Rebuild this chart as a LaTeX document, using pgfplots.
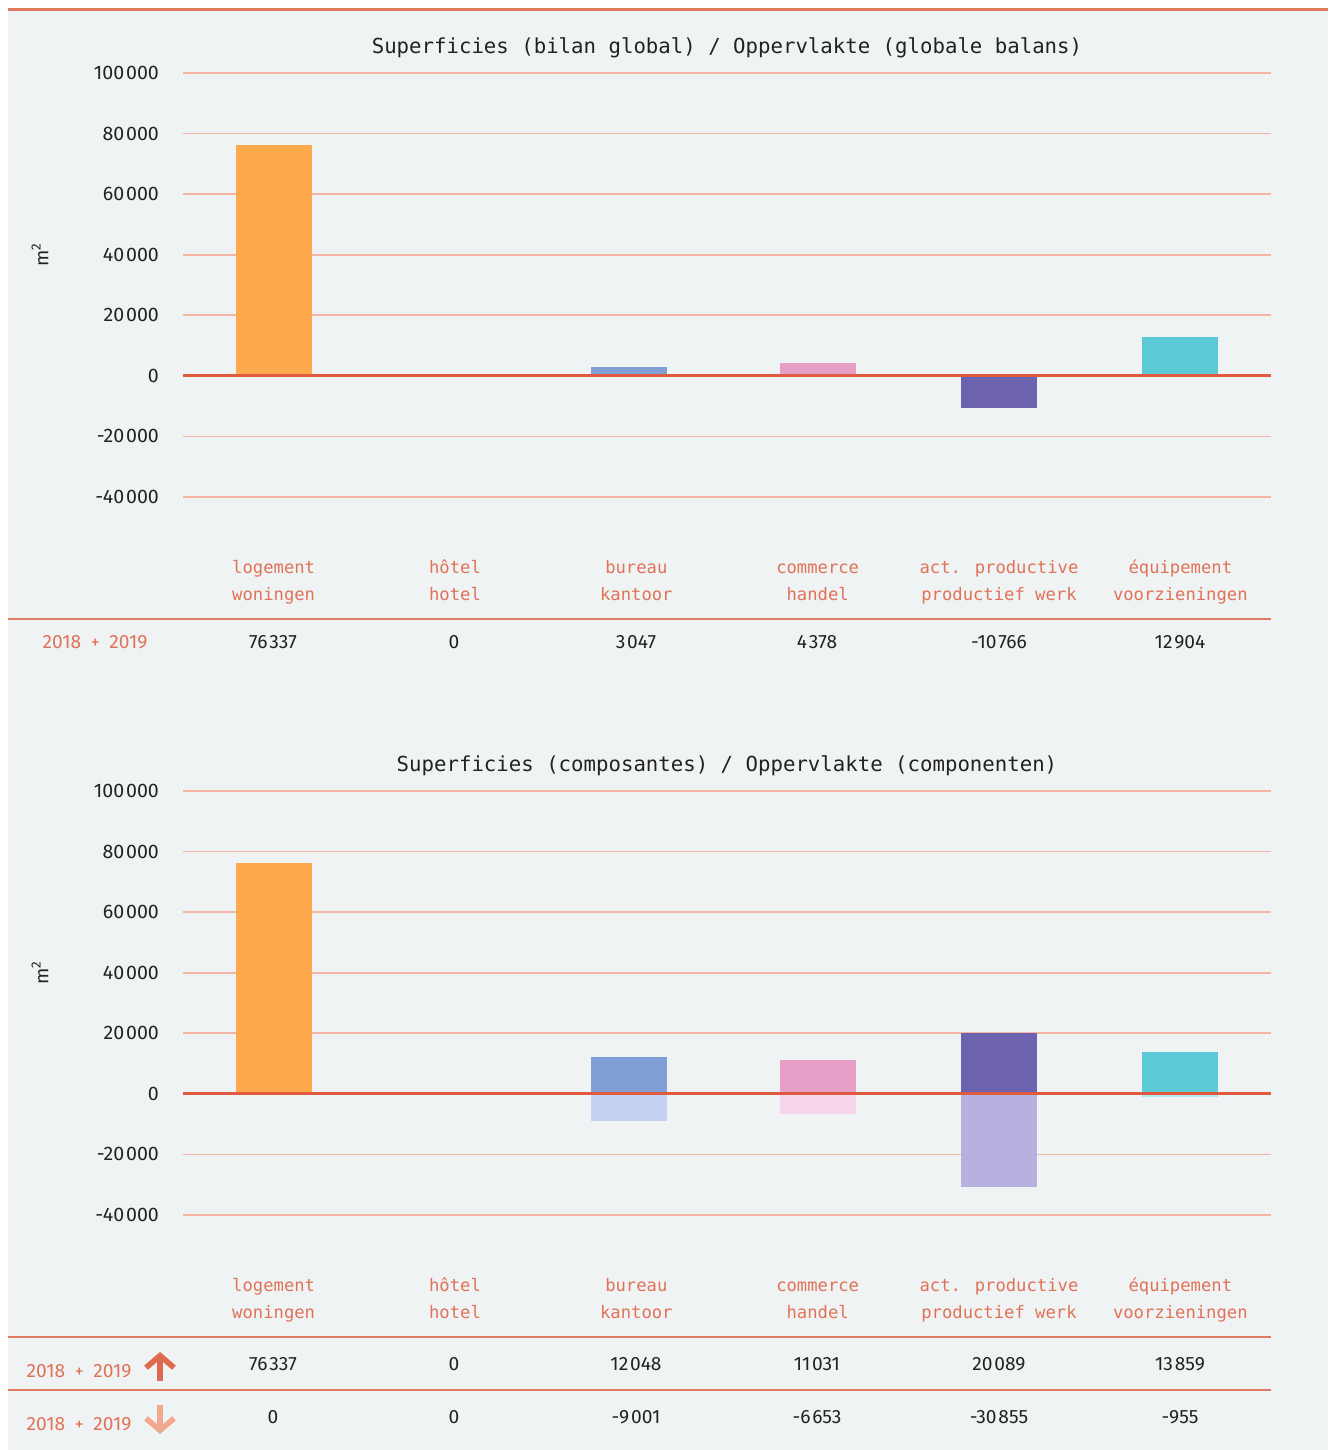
\documentclass[border=0pt]{standalone}
\usepackage{pgfplots}
\pgfplotsset{compat=1.18}
\usepackage{fontspec}
\setmainfont{Fira Sans}
\newfontfamily\monof{DejaVu Sans Mono}
\usetikzlibrary{arrows.meta}
\definecolor{bg}{HTML}{F0F3F3}
\definecolor{gridc}{HTML}{F4B6A4}
\definecolor{zeroc}{HTML}{E05A40}
\definecolor{labc}{HTML}{E07258}
\definecolor{linec}{HTML}{E07A5F}
\definecolor{txt}{HTML}{222222}
\definecolor{cA}{HTML}{FFA94D}
\definecolor{cB}{HTML}{809FD4}
\definecolor{cC}{HTML}{E69FC7}
\definecolor{cD}{HTML}{6C62B0}
\definecolor{cE}{HTML}{5BC9D6}
\definecolor{lB}{HTML}{C3D0EF}
\definecolor{lC}{HTML}{F6D4E9}
\definecolor{lD}{HTML}{B8B1E0}
\definecolor{lE}{HTML}{B0E6EC}
\definecolor{arrUp}{HTML}{E06A4E}
\definecolor{arrDn}{HTML}{F0A98F}
\newcommand{\ts}{\kern0.9pt}
\pgfplotsset{mychart/.style={
  scale only axis, width=544pt, height=212pt,
  xmin=-0.5, xmax=5.5, ymin=-40000, ymax=100000,
  axis line style={draw=none}, major tick length=0pt,
  ytick={-40000,-20000,0,20000,40000,60000,80000,100000},
  yticklabels={-40\ts000,-20\ts000,0,20\ts000,40\ts000,60\ts000,80\ts000,100\ts000},
  ymajorgrids, major grid style={color=gridc, line width=0.85pt},
  xtick={0,1,2,3,4,5},
  xticklabels={{\strut logement\\woningen},{\strut hôtel\\hotel},{\strut bureau\\kantoor},{\strut commerce\\handel},{\strut act. productive\\productief werk},{\strut équipement\\voorzieningen}},
  xticklabel style={font=\monof\fontsize{8.6}{13.5}\selectfont, text=labc, align=center, yshift=-25.5pt},
  yticklabel style={font=\fontsize{9.8}{12}\selectfont, text=txt, xshift=-8.5pt},
  scaled y ticks=false,
  ylabel={m\textsuperscript{2}},
  ylabel style={at={(axis description cs:-0.1314,0.571)}, anchor=center, font=\fontsize{9.5}{11}\selectfont, text=txt},
  title style={at={(axis description cs:0.5,1)}, anchor=center, yshift=6.8pt, font=\monof\fontsize{10.35}{12}\selectfont, text=txt},
  clip=false,
}}
\begin{document}
\begin{tikzpicture}
\begin{scope}[x=0.5pt,y=0.5pt]
\fill[white] (0,0) rectangle (1328,1450);
\fill[bg] (8,0) rectangle (1328,1442);
\draw[linec, line width=1.5pt] (8,1440) -- (1328,1440);
\end{scope}
% ---------- chart 1 ----------
\begin{axis}[mychart, at={(91.5pt,476.5pt)}, anchor=south west,
  title={Superficies (bilan global) / Oppervlakte (globale balans)}]
\addplot[ybar, bar width=38pt, bar shift=0pt, fill=cA, draw=none] coordinates {(0,76337)};
\addplot[ybar, bar width=38pt, bar shift=0pt, fill=cA, draw=none] coordinates {(1,0)};
\addplot[ybar, bar width=38pt, bar shift=-3.5pt, fill=cB, draw=none] coordinates {(2,3047)};
\addplot[ybar, bar width=38pt, bar shift=0pt, fill=cC, draw=none] coordinates {(3,4378)};
\addplot[ybar, bar width=38pt, bar shift=0pt, fill=cD, draw=none] coordinates {(4,-10766)};
\addplot[ybar, bar width=38pt, bar shift=0pt, fill=cE, draw=none] coordinates {(5,12904)};
\draw[zeroc, line width=1.4pt] (axis cs:-0.5,0) -- (axis cs:5.5,0);
\end{axis}
% ---------- chart 2 ----------
\begin{axis}[mychart, at={(91.5pt,117.5pt)}, anchor=south west,
  title={Superficies (composantes) / Oppervlakte (componenten)}]
\addplot[ybar, bar width=38pt, bar shift=0pt, fill=cA, draw=none] coordinates {(0,76337)};
\addplot[ybar, bar width=38pt, bar shift=-3.5pt, fill=cB, draw=none] coordinates {(2,12048)};
\addplot[ybar, bar width=38pt, bar shift=0pt, fill=cC, draw=none] coordinates {(3,11031)};
\addplot[ybar, bar width=38pt, bar shift=0pt, fill=cD, draw=none] coordinates {(4,20089)};
\addplot[ybar, bar width=38pt, bar shift=0pt, fill=cE, draw=none] coordinates {(5,13859)};
\addplot[ybar, bar width=38pt, bar shift=-3.5pt, fill=lB, draw=none] coordinates {(2,-9001)};
\addplot[ybar, bar width=38pt, bar shift=0pt, fill=lC, draw=none] coordinates {(3,-6653)};
\addplot[ybar, bar width=38pt, bar shift=0pt, fill=lD, draw=none] coordinates {(4,-30855)};
\addplot[ybar, bar width=38pt, bar shift=0pt, fill=lE, draw=none] coordinates {(5,-955)};
\draw[zeroc, line width=1.4pt] (axis cs:-0.5,0) -- (axis cs:5.5,0);
\end{axis}
\begin{scope}[x=0.5pt,y=0.5pt]
\draw[linec, line width=0.8pt] (8,831) -- (1271,831);
\draw[linec, line width=0.8pt] (8,113) -- (1271,113);
\draw[linec, line width=0.8pt] (8,60) -- (1271,60);
\begin{scope}[every node/.style={font=\fontsize{9.6}{12}\selectfont, text=txt}]
\node at (95,808) {\color{labc}2018\enspace{\small+}\enspace2019};
\node at (273,808) {76\ts337};
\node at (454,808) {0};
\node at (636,808) {3\ts047};
\node at (817,808) {4\ts378};
\node at (999,808) {-10\ts766};
\node at (1180,808) {12\ts904};
\node at (79,79) {\color{labc}2018\enspace{\small+}\enspace2019};
\node at (79,26) {\color{labc}2018\enspace{\small+}\enspace2019};
\node at (273,86) {76\ts337};
\node at (454,86) {0};
\node at (636,86) {12\ts048};
\node at (817,86) {11\ts031};
\node at (999,86) {20\ts089};
\node at (1180,86) {13\ts859};
\node at (273,33) {0};
\node at (454,33) {0};
\node at (636,33) {-9\ts001};
\node at (817,33) {-6\ts653};
\node at (999,33) {-30\ts855};
\node at (1180,33) {-955};
\end{scope}
\draw[arrUp, line width=2.8pt, -{Straight Barb[length=6pt,width=14pt]}] (160,69) -- (160,98);
\draw[arrDn, line width=2.8pt, -{Straight Barb[length=6pt,width=14pt]}] (160,45) -- (160,16);
\end{scope}
\end{tikzpicture}
\end{document}
